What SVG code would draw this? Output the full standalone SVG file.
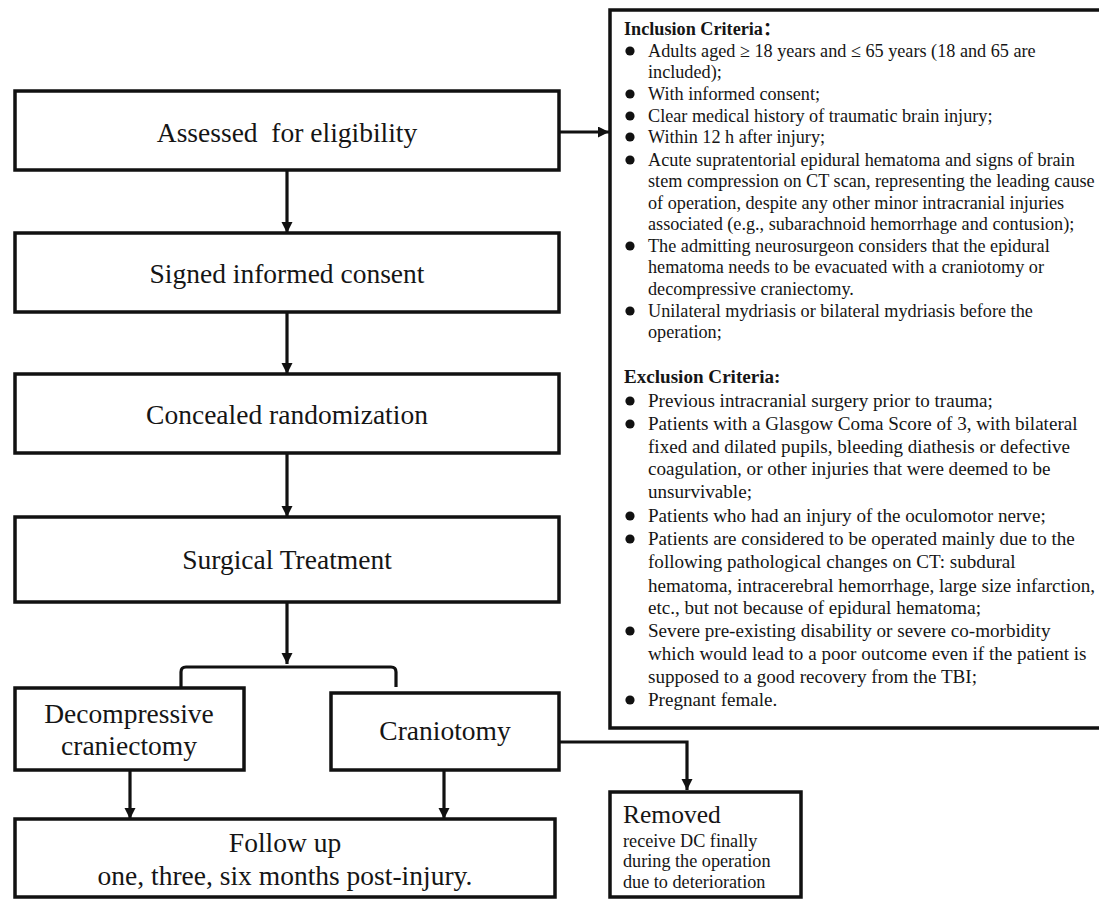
<svg xmlns="http://www.w3.org/2000/svg" width="1099" height="900" viewBox="0 0 1099 900">
<style>
.box{fill:#fff;stroke:#111;stroke-width:3.5}
.main{font-family:"Liberation Serif","Times New Roman",serif;font-size:27.5px;fill:#151515;text-anchor:middle}
.crit{font-family:"Liberation Serif","Times New Roman",serif;font-size:18.2px;fill:#151515}
.exc{font-family:"Liberation Serif","Times New Roman",serif;font-size:19.1px;fill:#151515}
.hdr{font-family:"Liberation Serif","Noto Sans CJK SC",serif;font-size:18.2px;font-weight:bold;fill:#151515}
.sm{font-family:"Liberation Serif","Times New Roman",serif;font-size:18.2px;fill:#151515}
.conn{fill:none;stroke:#111;stroke-width:3.2}
.bul{fill:#111}
</style>
<defs>
<marker id="ah" markerUnits="userSpaceOnUse" markerWidth="12" markerHeight="12" refX="11" refY="5.5" orient="auto">
<path d="M0,0 L11,5.5 L0,11 z" fill="#111"/>
</marker>
</defs>
<rect width="1099" height="900" fill="#fff"/>

<g id="connectors">
<line class="conn" x1="287" y1="170" x2="287" y2="233" marker-end="url(#ah)"/>
<line class="conn" x1="287" y1="312" x2="287" y2="374" marker-end="url(#ah)"/>
<line class="conn" x1="287" y1="453" x2="287" y2="517" marker-end="url(#ah)"/>
<line class="conn" x1="287" y1="602" x2="287" y2="664" marker-end="url(#ah)"/>
<line class="conn" x1="559" y1="132" x2="609" y2="132" marker-end="url(#ah)"/>
<path class="conn" d="M181,688 L181,672 Q181,667 186,667 L391,667 Q396,667 396,672 L396,687"/>
<line class="conn" x1="130" y1="770" x2="130" y2="819" marker-end="url(#ah)"/>
<line class="conn" x1="444" y1="770" x2="444" y2="819" marker-end="url(#ah)"/>
<path class="conn" d="M559,742 L687,742 L687,790" marker-end="url(#ah)"/>
</g>

<g id="assessed">
<rect class="box" x="15" y="91" width="544" height="79"/>
<text class="main" x="287" y="142" xml:space="preserve">Assessed  for eligibility</text>
</g>
<g id="consent">
<rect class="box" x="15" y="233" width="544" height="79"/>
<text class="main" x="287" y="283">Signed informed consent</text>
</g>
<g id="randomization">
<rect class="box" x="15" y="374" width="544" height="79"/>
<text class="main" x="287" y="424">Concealed randomization</text>
</g>
<g id="surgical">
<rect class="box" x="15" y="517" width="544" height="85"/>
<text class="main" x="287" y="569">Surgical Treatment</text>
</g>
<g id="decompressive">
<rect class="box" x="15" y="688" width="229" height="82"/>
<text class="main" x="129" y="723">Decompressive</text>
<text class="main" x="129" y="755">craniectomy</text>
</g>
<g id="craniotomy">
<rect class="box" x="331" y="693" width="228" height="77"/>
<text class="main" x="445" y="740">Craniotomy</text>
</g>
<g id="followup">
<rect class="box" x="15" y="819" width="540" height="78"/>
<text class="main" x="285" y="852">Follow up</text>
<text class="main" x="285" y="885">one, three, six months post-injury.</text>
</g>
<g id="removed">
<rect class="box" x="610" y="792" width="191" height="105"/>
<text class="main" x="623" y="823" style="text-anchor:start;font-size:25.5px">Removed</text>
<text class="sm" x="623" y="847">receive DC finally</text>
<text class="sm" x="623" y="867">during the operation</text>
<text class="sm" x="623" y="888">due to deterioration</text>
</g>

<g id="criteria">
<rect class="box" x="610" y="10" width="500" height="718"/>
<text class="hdr" x="624" y="35">Inclusion Criteria：</text>
<g class="bul">
<circle cx="630" cy="51" r="4.6"/>
<circle cx="630" cy="94" r="4.6"/>
<circle cx="630" cy="116" r="4.6"/>
<circle cx="630" cy="137" r="4.6"/>
<circle cx="630" cy="160" r="4.6"/>
<circle cx="630" cy="246" r="4.6"/>
<circle cx="630" cy="311" r="4.6"/>
<circle cx="630" cy="401" r="4.6"/>
<circle cx="630" cy="424" r="4.6"/>
<circle cx="630" cy="516" r="4.6"/>
<circle cx="630" cy="539" r="4.6"/>
<circle cx="630" cy="631" r="4.6"/>
<circle cx="630" cy="700" r="4.6"/>
</g>
<text class="crit" x="648" y="57">Adults aged ≥ 18 years and ≤ 65 years (18 and 65 are</text>
<text class="crit" x="648" y="78">included);</text>
<text class="crit" x="648" y="100">With informed consent;</text>
<text class="crit" x="648" y="122">Clear medical history of traumatic brain injury;</text>
<text class="crit" x="648" y="143">Within 12 h after injury;</text>
<text class="crit" x="648" y="166">Acute supratentorial epidural hematoma and signs of brain</text>
<text class="crit" x="648" y="187">stem compression on CT scan, representing the leading cause</text>
<text class="crit" x="648" y="209">of operation, despite any other minor intracranial injuries</text>
<text class="crit" x="648" y="230">associated (e.g., subarachnoid hemorrhage and contusion);</text>
<text class="crit" x="648" y="252">The admitting neurosurgeon considers that the epidural</text>
<text class="crit" x="648" y="273">hematoma needs to be evacuated with a craniotomy or</text>
<text class="crit" x="648" y="295">decompressive craniectomy.</text>
<text class="crit" x="648" y="317">Unilateral mydriasis or bilateral mydriasis before the</text>
<text class="crit" x="648" y="338">operation;</text>
<text class="hdr" x="624" y="383" style="font-size:19.1px">Exclusion Criteria:</text>
<text class="exc" x="648" y="407">Previous intracranial surgery prior to trauma;</text>
<text class="exc" x="648" y="430">Patients with a Glasgow Coma Score of 3, with bilateral</text>
<text class="exc" x="648" y="453">fixed and dilated pupils, bleeding diathesis or defective</text>
<text class="exc" x="648" y="475">coagulation, or other injuries that were deemed to be</text>
<text class="exc" x="648" y="498">unsurvivable;</text>
<text class="exc" x="648" y="522">Patients who had an injury of the oculomotor nerve;</text>
<text class="exc" x="648" y="545">Patients are considered to be operated mainly due to the</text>
<text class="exc" x="648" y="568">following pathological changes on CT: subdural</text>
<text class="exc" x="648" y="592">hematoma, intracerebral hemorrhage, large size infarction,</text>
<text class="exc" x="648" y="614">etc., but not because of epidural hematoma;</text>
<text class="exc" x="648" y="637">Severe pre-existing disability or severe co-morbidity</text>
<text class="exc" x="648" y="660">which would lead to a poor outcome even if the patient is</text>
<text class="exc" x="648" y="683">supposed to a good recovery from the TBI;</text>
<text class="exc" x="648" y="706">Pregnant female.</text>
</g>
</svg>
